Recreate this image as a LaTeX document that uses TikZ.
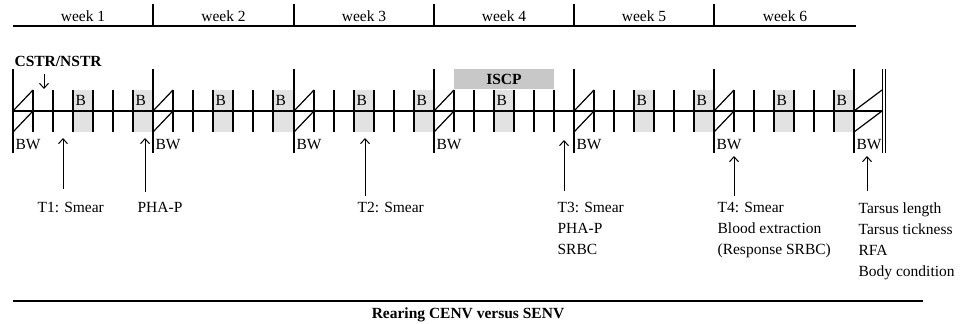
\documentclass[tikz,border=0pt]{standalone}
\usepackage{fontspec}
\setmainfont{Liberation Serif}
\usetikzlibrary{arrows.meta}
\definecolor{bgray}{HTML}{E2E2E2}
\definecolor{igray}{HTML}{C8C8C8}
\begin{document}
\begin{tikzpicture}[x=1pt,y=-1pt,line width=1.2pt,
  lbl/.style={font=\fontsize{15.5}{21}\selectfont,inner sep=0pt},
  blbl/.style={font=\fontsize{15.5}{21}\selectfont\bfseries,inner sep=0pt},
  txt/.style={lbl,align=left,anchor=base west},
  arr/.style={-{Straight Barb[length=5pt,width=9pt]},line width=1pt}]
\useasboundingbox (0,0) rectangle (964,324);
% header
\draw (13,26) -- (856,26);
\foreach \x in {153,294,434,574,714} \draw (\x,4) -- (\x,26);
\foreach \a/\b [count=\i] in {13/153,153/294,294/434,434/574,574/714,714/856}
  \node[lbl] (wk\i) at ({(\a+\b)/2},16) {week \i};
% gray boxes
\fill[igray] (454,69) rectangle (554,89);
\node[blbl] (iscp) at (504,79) {ISCP};
\foreach \w [count=\i] in {13,153,294,434,574,714}{
  \fill[bgray] (\w+60,90) rectangle (\w+80,132);
  \node[lbl,anchor=west] (b\i-1) at (\w+62,100) {B};
  \ifnum\i=4\else
  \fill[bgray] (\w+120,90) rectangle (\w+140,132);
  \node[lbl,anchor=west] (b\i-2) at (\w+122,100) {B};
  \fi
  \foreach \k in {1,...,6} \draw (\w+20*\k,90) -- (\w+20*\k,132);
  \draw (\w,111) -- (\w+20,90);
  \draw (\w,132) -- (\w+20,111);
  \node[lbl,anchor=west] (bw\i) at (\w+2,145) {BW};
}
% final day
\draw (854,111) -- (882,90);
\draw (854,132) -- (882,111);
\node[lbl,anchor=west] (bw7) at (856,145) {BW};
% timeline
\draw (13,111) -- (882,111);
\foreach \x in {13,153,294,434,574,714,854} \draw (\x,69) -- (\x,153);
\draw[line width=1pt] (882,69) -- (882,153);
\draw[line width=1pt] (885,69) -- (885,153);
% CSTR/NSTR
\node[blbl,anchor=west] (cstr) at (14,61) {CSTR/NSTR};
\coordinate (c1) at (44,74);
\coordinate (c2) at (44,89);
\draw[arr] (c1) -- (c2);
% bottom texts (anchor at baseline of last line)
\node[txt] (t1) at (37,212.5) {T1: Smear};
\node[txt] (pha) at (137,212.5) {PHA-P};
\node[txt] (t2) at (357,212.5) {T2: Smear};
\node[txt] (t3) at (557,254.5) {T3: Smear\\PHA-P\\SRBC};
\node[txt] (t4) at (717,254.5) {T4: Smear\\Blood extraction\\(Response SRBC)};
\node[txt] (t5) at (858,276) {Tarsus length\\Tarsus tickness\\RFA\\Body condition};
% arrows
\foreach \n/\x/\ya/\yb in {1/63/189/138,2/145/192/138,3/365/196/138,4/564/191/140,5/734/196/156,6/867/191/156}{
  \coordinate (s\n) at (\x,\ya);
  \coordinate (e\n) at (\x,\yb);
  \draw[arr] (s\n) -- (e\n);
}
% bottom line
\draw (13,301) -- (923,301);
\node[blbl,anchor=base] (rear) at (468,318) {Rearing CENV versus SENV};
\end{tikzpicture}
\end{document}
